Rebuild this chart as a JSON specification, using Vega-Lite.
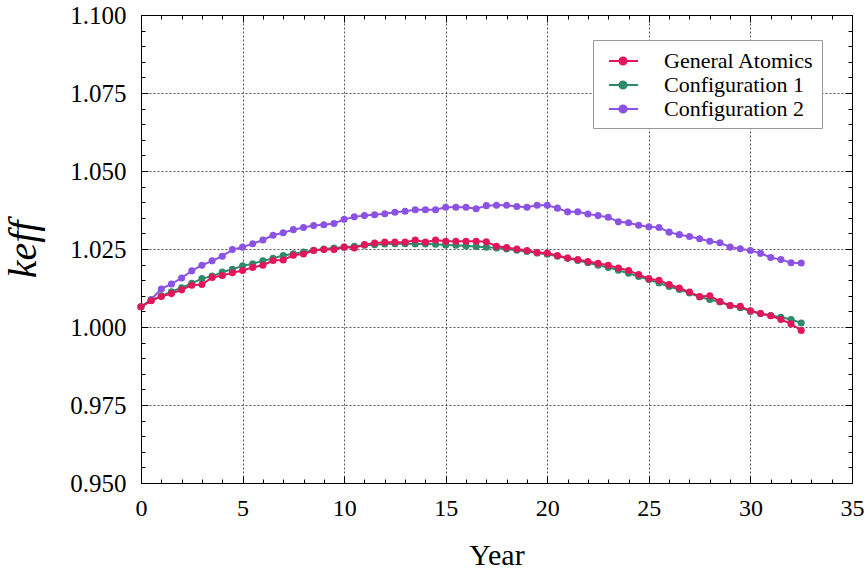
{
  "$schema": "https://vega.github.io/schema/vega-lite/v6.json",
  "width": 711,
  "height": 468,
  "autosize": {"type": "none"},
  "padding": {"left": 141, "top": 15, "right": 15, "bottom": 88},
  "background": "white",
  "config": {
    "view": {"stroke": "black", "strokeWidth": 1},
    "font": "Liberation Serif",
    "axis": {"labelFont": "Liberation Serif", "titleFont": "Liberation Serif", "labelColor": "black", "titleColor": "black", "domainColor": "black", "tickColor": "black", "titleFontWeight": "normal"}
  },
  "datasets": {
    "d": [
      {"series":"Configuration 2","year":0,"k":1.0065},{"series":"Configuration 2","year":0.5,"k":1.0088},{"series":"Configuration 2","year":1,"k":1.0122},{"series":"Configuration 2","year":1.5,"k":1.0138},{"series":"Configuration 2","year":2,"k":1.0157},{"series":"Configuration 2","year":2.5,"k":1.0180},{"series":"Configuration 2","year":3,"k":1.0198},{"series":"Configuration 2","year":3.5,"k":1.0212},{"series":"Configuration 2","year":4,"k":1.0227},{"series":"Configuration 2","year":4.5,"k":1.0248},{"series":"Configuration 2","year":5,"k":1.0256},{"series":"Configuration 2","year":5.5,"k":1.0267},{"series":"Configuration 2","year":6,"k":1.0279},{"series":"Configuration 2","year":6.5,"k":1.0294},{"series":"Configuration 2","year":7,"k":1.0302},{"series":"Configuration 2","year":7.5,"k":1.0312},{"series":"Configuration 2","year":8,"k":1.0319},{"series":"Configuration 2","year":8.5,"k":1.0325},{"series":"Configuration 2","year":9,"k":1.0328},{"series":"Configuration 2","year":9.5,"k":1.0332},{"series":"Configuration 2","year":10,"k":1.0345},{"series":"Configuration 2","year":10.5,"k":1.0353},{"series":"Configuration 2","year":11,"k":1.0357},{"series":"Configuration 2","year":11.5,"k":1.0360},{"series":"Configuration 2","year":12,"k":1.0363},{"series":"Configuration 2","year":12.5,"k":1.0368},{"series":"Configuration 2","year":13,"k":1.0371},{"series":"Configuration 2","year":13.5,"k":1.0376},{"series":"Configuration 2","year":14,"k":1.0376},{"series":"Configuration 2","year":14.5,"k":1.0376},{"series":"Configuration 2","year":15,"k":1.0384},{"series":"Configuration 2","year":15.5,"k":1.0384},{"series":"Configuration 2","year":16,"k":1.0384},{"series":"Configuration 2","year":16.5,"k":1.0379},{"series":"Configuration 2","year":17,"k":1.0389},{"series":"Configuration 2","year":17.5,"k":1.0390},{"series":"Configuration 2","year":18,"k":1.0390},{"series":"Configuration 2","year":18.5,"k":1.0386},{"series":"Configuration 2","year":19,"k":1.0384},{"series":"Configuration 2","year":19.5,"k":1.0390},{"series":"Configuration 2","year":20,"k":1.0390},{"series":"Configuration 2","year":20.5,"k":1.0381},{"series":"Configuration 2","year":21,"k":1.0369},{"series":"Configuration 2","year":21.5,"k":1.0369},{"series":"Configuration 2","year":22,"k":1.0362},{"series":"Configuration 2","year":22.5,"k":1.0357},{"series":"Configuration 2","year":23,"k":1.0352},{"series":"Configuration 2","year":23.5,"k":1.0337},{"series":"Configuration 2","year":24,"k":1.0334},{"series":"Configuration 2","year":24.5,"k":1.0326},{"series":"Configuration 2","year":25,"k":1.0321},{"series":"Configuration 2","year":25.5,"k":1.0319},{"series":"Configuration 2","year":26,"k":1.0304},{"series":"Configuration 2","year":26.5,"k":1.0296},{"series":"Configuration 2","year":27,"k":1.0290},{"series":"Configuration 2","year":27.5,"k":1.0283},{"series":"Configuration 2","year":28,"k":1.0275},{"series":"Configuration 2","year":28.5,"k":1.0270},{"series":"Configuration 2","year":29,"k":1.0256},{"series":"Configuration 2","year":29.5,"k":1.0251},{"series":"Configuration 2","year":30,"k":1.0245},{"series":"Configuration 2","year":30.5,"k":1.0236},{"series":"Configuration 2","year":31,"k":1.0223},{"series":"Configuration 2","year":31.5,"k":1.0216},{"series":"Configuration 2","year":32,"k":1.0206},{"series":"Configuration 2","year":32.5,"k":1.0205},
      {"series":"Configuration 1","year":0,"k":1.0065},{"series":"Configuration 1","year":0.5,"k":1.0085},{"series":"Configuration 1","year":1,"k":1.0100},{"series":"Configuration 1","year":1.5,"k":1.0113},{"series":"Configuration 1","year":2,"k":1.0126},{"series":"Configuration 1","year":2.5,"k":1.0140},{"series":"Configuration 1","year":3,"k":1.0155},{"series":"Configuration 1","year":3.5,"k":1.0163},{"series":"Configuration 1","year":4,"k":1.0176},{"series":"Configuration 1","year":4.5,"k":1.0185},{"series":"Configuration 1","year":5,"k":1.0196},{"series":"Configuration 1","year":5.5,"k":1.0203},{"series":"Configuration 1","year":6,"k":1.0212},{"series":"Configuration 1","year":6.5,"k":1.0220},{"series":"Configuration 1","year":7,"k":1.0229},{"series":"Configuration 1","year":7.5,"k":1.0235},{"series":"Configuration 1","year":8,"k":1.0240},{"series":"Configuration 1","year":8.5,"k":1.0246},{"series":"Configuration 1","year":9,"k":1.0250},{"series":"Configuration 1","year":9.5,"k":1.0253},{"series":"Configuration 1","year":10,"k":1.0256},{"series":"Configuration 1","year":10.5,"k":1.0259},{"series":"Configuration 1","year":11,"k":1.0262},{"series":"Configuration 1","year":11.5,"k":1.0264},{"series":"Configuration 1","year":12,"k":1.0266},{"series":"Configuration 1","year":12.5,"k":1.0267},{"series":"Configuration 1","year":13,"k":1.0267},{"series":"Configuration 1","year":13.5,"k":1.0266},{"series":"Configuration 1","year":14,"k":1.0266},{"series":"Configuration 1","year":14.5,"k":1.0265},{"series":"Configuration 1","year":15,"k":1.0263},{"series":"Configuration 1","year":15.5,"k":1.0262},{"series":"Configuration 1","year":16,"k":1.0260},{"series":"Configuration 1","year":16.5,"k":1.0258},{"series":"Configuration 1","year":17,"k":1.0256},{"series":"Configuration 1","year":17.5,"k":1.0253},{"series":"Configuration 1","year":18,"k":1.0250},{"series":"Configuration 1","year":18.5,"k":1.0246},{"series":"Configuration 1","year":19,"k":1.0242},{"series":"Configuration 1","year":19.5,"k":1.0237},{"series":"Configuration 1","year":20,"k":1.0233},{"series":"Configuration 1","year":20.5,"k":1.0227},{"series":"Configuration 1","year":21,"k":1.0220},{"series":"Configuration 1","year":21.5,"k":1.0213},{"series":"Configuration 1","year":22,"k":1.0206},{"series":"Configuration 1","year":22.5,"k":1.0198},{"series":"Configuration 1","year":23,"k":1.0191},{"series":"Configuration 1","year":23.5,"k":1.0182},{"series":"Configuration 1","year":24,"k":1.0172},{"series":"Configuration 1","year":24.5,"k":1.0162},{"series":"Configuration 1","year":25,"k":1.0152},{"series":"Configuration 1","year":25.5,"k":1.0141},{"series":"Configuration 1","year":26,"k":1.0130},{"series":"Configuration 1","year":26.5,"k":1.0120},{"series":"Configuration 1","year":27,"k":1.0109},{"series":"Configuration 1","year":27.5,"k":1.0096},{"series":"Configuration 1","year":28,"k":1.0088},{"series":"Configuration 1","year":28.5,"k":1.0080},{"series":"Configuration 1","year":29,"k":1.0068},{"series":"Configuration 1","year":29.5,"k":1.0062},{"series":"Configuration 1","year":30,"k":1.0050},{"series":"Configuration 1","year":30.5,"k":1.0043},{"series":"Configuration 1","year":31,"k":1.0037},{"series":"Configuration 1","year":31.5,"k":1.0031},{"series":"Configuration 1","year":32,"k":1.0024},{"series":"Configuration 1","year":32.5,"k":1.0013},
      {"series":"General Atomics","year":0,"k":1.0065},{"series":"General Atomics","year":0.5,"k":1.0084},{"series":"General Atomics","year":1,"k":1.0098},{"series":"General Atomics","year":1.5,"k":1.0107},{"series":"General Atomics","year":2,"k":1.0119},{"series":"General Atomics","year":2.5,"k":1.0134},{"series":"General Atomics","year":3,"k":1.0136},{"series":"General Atomics","year":3.5,"k":1.0159},{"series":"General Atomics","year":4,"k":1.0165},{"series":"General Atomics","year":4.5,"k":1.0174},{"series":"General Atomics","year":5,"k":1.0181},{"series":"General Atomics","year":5.5,"k":1.0191},{"series":"General Atomics","year":6,"k":1.0198},{"series":"General Atomics","year":6.5,"k":1.0213},{"series":"General Atomics","year":7,"k":1.0215},{"series":"General Atomics","year":7.5,"k":1.0230},{"series":"General Atomics","year":8,"k":1.0234},{"series":"General Atomics","year":8.5,"k":1.0245},{"series":"General Atomics","year":9,"k":1.0248},{"series":"General Atomics","year":9.5,"k":1.0248},{"series":"General Atomics","year":10,"k":1.0256},{"series":"General Atomics","year":10.5,"k":1.0253},{"series":"General Atomics","year":11,"k":1.0264},{"series":"General Atomics","year":11.5,"k":1.0269},{"series":"General Atomics","year":12,"k":1.0272},{"series":"General Atomics","year":12.5,"k":1.0272},{"series":"General Atomics","year":13,"k":1.0272},{"series":"General Atomics","year":13.5,"k":1.0279},{"series":"General Atomics","year":14,"k":1.0272},{"series":"General Atomics","year":14.5,"k":1.0279},{"series":"General Atomics","year":15,"k":1.0275},{"series":"General Atomics","year":15.5,"k":1.0275},{"series":"General Atomics","year":16,"k":1.0275},{"series":"General Atomics","year":16.5,"k":1.0275},{"series":"General Atomics","year":17,"k":1.0273},{"series":"General Atomics","year":17.5,"k":1.0259},{"series":"General Atomics","year":18,"k":1.0255},{"series":"General Atomics","year":18.5,"k":1.0250},{"series":"General Atomics","year":19,"k":1.0245},{"series":"General Atomics","year":19.5,"k":1.0239},{"series":"General Atomics","year":20,"k":1.0237},{"series":"General Atomics","year":20.5,"k":1.0229},{"series":"General Atomics","year":21,"k":1.0221},{"series":"General Atomics","year":21.5,"k":1.0216},{"series":"General Atomics","year":22,"k":1.0210},{"series":"General Atomics","year":22.5,"k":1.0204},{"series":"General Atomics","year":23,"k":1.0198},{"series":"General Atomics","year":23.5,"k":1.0189},{"series":"General Atomics","year":24,"k":1.0181},{"series":"General Atomics","year":24.5,"k":1.0168},{"series":"General Atomics","year":25,"k":1.0155},{"series":"General Atomics","year":25.5,"k":1.0150},{"series":"General Atomics","year":26,"k":1.0136},{"series":"General Atomics","year":26.5,"k":1.0125},{"series":"General Atomics","year":27,"k":1.0112},{"series":"General Atomics","year":27.5,"k":1.0098},{"series":"General Atomics","year":28,"k":1.0100},{"series":"General Atomics","year":28.5,"k":1.0082},{"series":"General Atomics","year":29,"k":1.0069},{"series":"General Atomics","year":29.5,"k":1.0066},{"series":"General Atomics","year":30,"k":1.0052},{"series":"General Atomics","year":30.5,"k":1.0043},{"series":"General Atomics","year":31,"k":1.0036},{"series":"General Atomics","year":31.5,"k":1.0024},{"series":"General Atomics","year":32,"k":1.0010},{"series":"General Atomics","year":32.5,"k":0.9989}
    ]
  },
  "data": {"name": "d"},
  "resolve": {"axis": {"x": "independent", "y": "independent"}},
  "layer": [
    {
      "encoding": {
        "x": {"field": "year", "type": "quantitative", "scale": {"domain": [0, 35], "nice": false, "zero": false},
          "axis": {"orient": "bottom", "title": "Year", "titleFont": "Liberation Serif", "titleFontSize": 30, "titlePadding": 17,
            "values": [0,1,2,3,4,5,6,7,8,9,10,11,12,13,14,15,16,17,18,19,20,21,22,23,24,25,26,27,28,29,30,31,32,33,34,35],
            "labelExpr": "datum.value % 5 === 0 ? datum.label : ''", "labelFont": "Liberation Serif", "labelFontSize": 24, "labelFlush": false, "labelOverlap": false, "labelPadding": 20,
            "tickSize": {"condition": {"test": "datum.value % 5 === 0", "value": -7}, "value": -4},
            "grid": true, "gridDash": [2, 2], "gridColor": "#555", "gridWidth": 1,
            "gridOpacity": {"condition": {"test": "datum.value % 5 === 0", "value": 1}, "value": 0}}},
        "y": {"field": "k", "type": "quantitative", "scale": {"domain": [0.95, 1.1], "nice": false, "zero": false},
          "axis": {"orient": "left", "title": "keff", "titleFont": "Liberation Serif", "titleFontSize": 40, "titleFontStyle": "italic", "titlePadding": 26,
            "values": [0.95,0.955,0.96,0.965,0.97,0.975,0.98,0.985,0.99,0.995,1.0,1.005,1.01,1.015,1.02,1.025,1.03,1.035,1.04,1.045,1.05,1.055,1.06,1.065,1.07,1.075,1.08,1.085,1.09,1.095,1.1],
            "format": ".3f",
            "labelExpr": "round(datum.value*1000) % 25 === 0 ? datum.label : ''", "labelFont": "Liberation Serif", "labelFontSize": 25, "labelFlush": false, "labelOverlap": false, "labelPadding": 22,
            "tickSize": {"condition": {"test": "round(datum.value*1000) % 25 === 0", "value": -7}, "value": -4},
            "grid": true, "gridDash": [2, 2], "gridColor": "#555", "gridWidth": 1,
            "gridOpacity": {"condition": {"test": "round(datum.value*1000) % 25 === 0", "value": 1}, "value": 0}}},
        "color": {"field": "series", "type": "nominal",
          "scale": {"domain": ["General Atomics", "Configuration 1", "Configuration 2"], "range": ["#e3155b", "#2e8a6b", "#8b52e3"]},
          "legend": {"title": null, "orient": "none", "legendX": 452, "legendY": 25,
            "padding": 8, "strokeColor": "#999", "fillColor": "white", "cornerRadius": 0,
            "labelFont": "Liberation Serif", "labelFontSize": 22, "labelColor": "black", "labelOffset": 37, "rowPadding": 0,
            "symbolType": "M-0.42,0H2.0M0.85,0A0.1,0.1 0 1,1 0.65,0A0.1,0.1 0 1,1 0.85,0M0.95,0A0.2,0.2 0 1,1 0.55,0A0.2,0.2 0 1,1 0.95,0M1.05,0A0.3,0.3 0 1,1 0.45,0A0.3,0.3 0 1,1 1.05,0",
            "symbolSize": 576, "symbolStrokeWidth": 2, "symbolFillColor": "transparent"}}
      },
      "layer": [
        {"transform": [{"filter": "datum.series === 'Configuration 2'"}], "mark": {"type": "line", "strokeWidth": 2, "point": {"filled": true, "size": 50, "opacity": 1}}},
        {"transform": [{"filter": "datum.series === 'Configuration 1'"}], "mark": {"type": "line", "strokeWidth": 2, "point": {"filled": true, "size": 50, "opacity": 1}}},
        {"transform": [{"filter": "datum.series === 'General Atomics'"}], "mark": {"type": "line", "strokeWidth": 2, "point": {"filled": true, "size": 50, "opacity": 1}}}
      ]
    },
    {
      "mark": {"type": "point", "opacity": 0},
      "encoding": {
        "x": {"field": "year", "type": "quantitative",
          "axis": {"orient": "top", "title": null, "labels": false, "grid": false,
            "values": [0,1,2,3,4,5,6,7,8,9,10,11,12,13,14,15,16,17,18,19,20,21,22,23,24,25,26,27,28,29,30,31,32,33,34,35],
            "tickSize": {"condition": {"test": "datum.value % 5 === 0", "value": -7}, "value": -4}}},
        "y": {"field": "k", "type": "quantitative",
          "axis": {"orient": "right", "title": null, "labels": false, "grid": false,
            "values": [0.95,0.955,0.96,0.965,0.97,0.975,0.98,0.985,0.99,0.995,1.0,1.005,1.01,1.015,1.02,1.025,1.03,1.035,1.04,1.045,1.05,1.055,1.06,1.065,1.07,1.075,1.08,1.085,1.09,1.095,1.1],
            "tickSize": {"condition": {"test": "round(datum.value*1000) % 25 === 0", "value": -7}, "value": -4}}}
      }
    }
  ]
}
